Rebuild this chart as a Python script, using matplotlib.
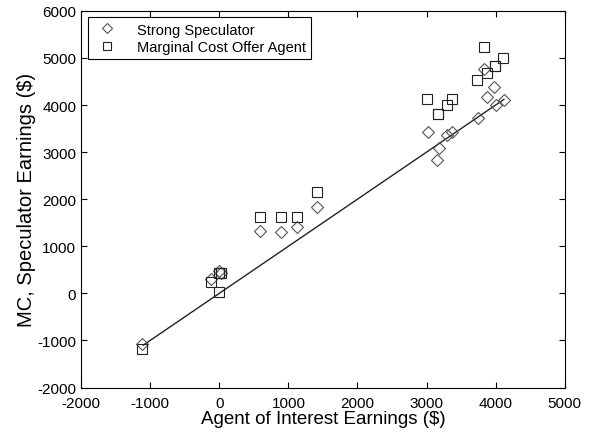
import matplotlib.pyplot as plt
import numpy as np

plt.rcParams['font.family'] = ['Liberation Sans', 'DejaVu Sans']
plt.rcParams['axes.unicode_minus'] = False

# Strong Speculator (diamonds)
spec_x = [-1117, 0, 30, -120, 592, 896, 1123, 1412, 3025, 3155, 3179, 3300,
          3372, 3747, 3830, 3880, 3970, 4007, 4118]
spec_y = [-1070, 478, 440, 302, 1323, 1293, 1413, 1835, 3432, 2833, 3095, 3361,
          3432, 3728, 4760, 4171, 4382, 3994, 4110]

# Marginal Cost Offer Agent (squares)
mc_x = [-1117, -120, 0, 0, 30, 30, 592, 896, 1123, 1412, 3010, 3165, 3165,
        3300, 3370, 3733, 3830, 3877, 3988, 3988, 4104]
mc_y = [-1175, 247, 20, 428, 428, 428, 1624, 1624, 1624, 2145, 4120, 3800, 3800,
        4000, 4120, 4540, 5230, 4690, 4830, 4830, 4990]

# reference line (agent of interest earnings)
line_x = [-1100, 4120]
line_y = [-1100, 4120]

fig = plt.figure(figsize=(5.92, 4.39), dpi=100)
ax = fig.add_axes([0.137, 0.115, 0.817, 0.858])

ax.plot(line_x, line_y, color='#222222', lw=1.0, zorder=1)
ax.plot(spec_x, spec_y, linestyle='none', marker='D', markersize=6.3,
        markerfacecolor='none', markeredgecolor='#555555', markeredgewidth=0.8,
        label='Strong Speculator', zorder=2)
ax.plot(mc_x, mc_y, linestyle='none', marker='s', markersize=7.8,
        markerfacecolor='none', markeredgecolor='#222222', markeredgewidth=0.8,
        label='Marginal Cost Offer Agent', zorder=3)

ax.set_xlim(-2000, 5000)
ax.set_ylim(-2000, 6000)
ax.set_xticks(np.arange(-2000, 5001, 1000))
ax.set_yticks(np.arange(-2000, 6001, 1000))
ax.tick_params(direction='in', top=True, right=True, labelsize=11, length=4)
ax.tick_params(axis='x', pad=6)
ax.set_xlabel('Agent of Interest Earnings ($)', fontsize=13.5, labelpad=0)
ax.set_ylabel('MC, Speculator Earnings ($)', fontsize=14.5, labelpad=1)

leg = ax.legend(loc='upper left', fontsize=10.5, fancybox=False, framealpha=1,
                edgecolor='black', borderpad=0.35, labelspacing=0.25,
                handletextpad=1.0, borderaxespad=0.45, markerscale=0.75)
leg.get_frame().set_linewidth(0.8)

plt.savefig('out.png', dpi=100)
